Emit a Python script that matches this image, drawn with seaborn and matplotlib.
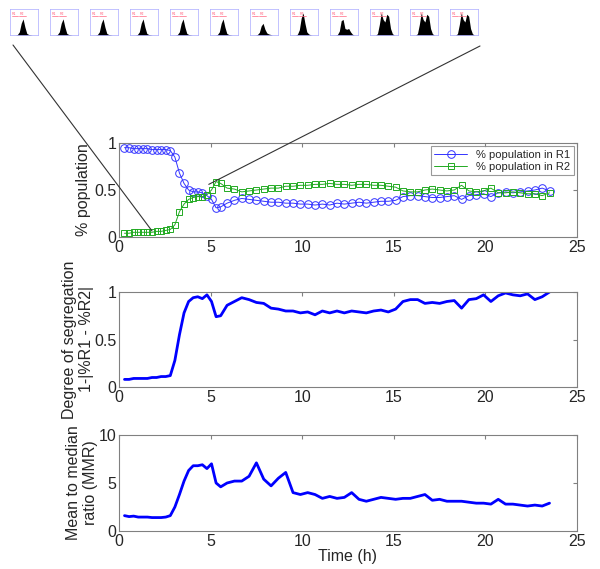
import numpy as np
import pandas as pd
import seaborn as sns
import matplotlib.pyplot as plt
from matplotlib.patches import ConnectionPatch

sns.set_style('white')
plt.rcParams['font.family'] = ['Liberation Sans', 'DejaVu Sans']

# sampling times (h)
time_h = [0.3, 0.55, 0.8, 1.05, 1.3, 1.55, 1.8, 2.05, 2.3, 2.55, 2.8, 3.05, 3.3, 3.55,
          3.8, 4.05, 4.3, 4.55, 4.8, 5.05, 5.3, 5.55,
          5.9, 6.3, 6.7, 7.1, 7.5, 7.9, 8.3, 8.7, 9.1, 9.5, 9.9, 10.3, 10.7, 11.1, 11.5,
          11.9, 12.3, 12.7, 13.1, 13.5, 13.9, 14.3, 14.7, 15.1, 15.5, 15.9, 16.3, 16.7,
          17.1, 17.5, 17.9, 18.3, 18.7, 19.1, 19.5, 19.9, 20.3, 20.7, 21.1, 21.5, 21.9,
          22.3, 22.7, 23.1, 23.5]

pct_r1 = [0.95, 0.95, 0.94, 0.94, 0.94, 0.94, 0.93, 0.93, 0.93, 0.93, 0.92, 0.85, 0.68, 0.57,
          0.50, 0.48, 0.48, 0.47, 0.44, 0.40, 0.31, 0.32,
          0.36, 0.39, 0.41, 0.40, 0.39, 0.38, 0.37, 0.37, 0.36, 0.36, 0.35, 0.35, 0.34, 0.35,
          0.34, 0.36, 0.35, 0.36, 0.37, 0.36, 0.37, 0.38, 0.38, 0.39, 0.43, 0.44, 0.44, 0.43,
          0.42, 0.42, 0.43, 0.44, 0.40, 0.44, 0.45, 0.46, 0.43, 0.47, 0.48, 0.47, 0.48, 0.49,
          0.50, 0.52, 0.49]

pct_r2 = [0.04, 0.04, 0.05, 0.05, 0.05, 0.05, 0.05, 0.06, 0.06, 0.07, 0.08, 0.13, 0.27, 0.35,
          0.40, 0.42, 0.43, 0.43, 0.45, 0.50, 0.59, 0.57,
          0.52, 0.51, 0.48, 0.49, 0.50, 0.51, 0.52, 0.52, 0.54, 0.54, 0.55, 0.55, 0.56, 0.56,
          0.57, 0.56, 0.56, 0.55, 0.56, 0.56, 0.55, 0.55, 0.54, 0.53, 0.49, 0.48, 0.48, 0.50,
          0.51, 0.50, 0.49, 0.50, 0.55, 0.49, 0.48, 0.49, 0.52, 0.47, 0.47, 0.48, 0.47, 0.46,
          0.46, 0.44, 0.47]

segregation = [0.08, 0.08, 0.09, 0.09, 0.09, 0.09, 0.10, 0.10, 0.11, 0.11, 0.12, 0.28, 0.55, 0.78,
               0.90, 0.94, 0.95, 0.93, 0.97, 0.90, 0.74, 0.75,
               0.86, 0.90, 0.94, 0.92, 0.89, 0.88, 0.83, 0.82, 0.80, 0.80, 0.78, 0.79, 0.76, 0.80,
               0.78, 0.80, 0.78, 0.80, 0.79, 0.78, 0.80, 0.81, 0.79, 0.82, 0.90, 0.92, 0.92, 0.88,
               0.89, 0.88, 0.90, 0.91, 0.83, 0.92, 0.93, 0.97, 0.90, 0.96, 0.99, 0.97, 0.96, 0.98,
               0.92, 0.95, 1.00]

mmr = [1.6, 1.5, 1.55, 1.45, 1.45, 1.45, 1.4, 1.4, 1.4, 1.45, 1.6, 2.5, 3.8, 5.2,
       6.3, 6.8, 6.8, 6.9, 6.5, 7.0, 5.0, 4.6,
       5.0, 5.2, 5.2, 5.7, 7.1, 5.4, 4.7, 5.5, 6.1, 4.0, 3.8, 4.0, 3.8, 3.4,
       3.6, 3.4, 3.5, 4.0, 3.3, 3.1, 3.3, 3.5, 3.4, 3.3, 3.4, 3.4, 3.6, 3.8,
       3.2, 3.3, 3.1, 3.1, 3.1, 3.0, 2.9, 2.9, 2.8, 3.3, 2.8, 2.8, 2.7, 2.6,
       2.7, 2.6, 2.9]

# flow cytometry histograms shown as thumbnails (fluorescence bins)
hist_bins = list(range(16))
hist_single = [0, 0, 0, 0, 0.02, 0.12, 0.45, 0.62, 0.30, 0.06, 0.02, 0.01, 0, 0, 0, 0]
hist_low = [0, 0, 0, 0, 0.02, 0.10, 0.35, 0.45, 0.22, 0.08, 0.04, 0.02, 0, 0, 0, 0]
hist_tall = [0, 0, 0, 0, 0.03, 0.20, 0.65, 0.85, 0.45, 0.12, 0.04, 0.01, 0, 0, 0, 0]
hist_shoulder = [0, 0, 0, 0, 0.02, 0.15, 0.55, 0.60, 0.25, 0.22, 0.25, 0.12, 0.03, 0, 0, 0]
hist_bimodal = [0, 0, 0, 0, 0.05, 0.40, 0.85, 0.60, 0.50, 0.80, 0.72, 0.25, 0.05, 0, 0, 0]
thumbs = [hist_single, hist_single, hist_single, hist_single, hist_single, hist_single,
          hist_low, hist_tall, hist_shoulder, hist_bimodal, hist_bimodal, hist_bimodal]

df = pd.DataFrame({'t': time_h, 'r1': pct_r1, 'r2': pct_r2, 'seg': segregation, 'mmr': mmr})

fig = plt.figure(figsize=(6, 5.69), dpi=100)
W, H = 600.0, 569.0

edge = '#808080'


def style_axes(ax):
    for s in ax.spines.values():
        s.set_color(edge)
        s.set_linewidth(0.8)
    ax.tick_params(direction='in', top=True, right=True, length=3, color=edge,
                   labelsize=11.5, pad=2)
    ax.set_xlim(0, 25)
    ax.set_xticks([0, 5, 10, 15, 20, 25])
    ax.set_xlabel('')


ax1 = fig.add_axes([119 / W, 1 - 237 / H, 458 / W, 94 / H])
ax2 = fig.add_axes([119 / W, 1 - 387 / H, 458 / W, 95 / H])
ax3 = fig.add_axes([119 / W, 1 - 531 / H, 458 / W, 96 / H])

sns.lineplot(data=df, x='t', y='r1', ax=ax1, color='#3333ff', lw=0.7, marker='o', ms=5.5,
             markerfacecolor='none', markeredgecolor='#3333ff', markeredgewidth=0.7,
             label='% population in R1')
sns.lineplot(data=df, x='t', y='r2', ax=ax1, color='#22aa22', lw=0.7, marker='s', ms=5,
             markerfacecolor='none', markeredgecolor='#22aa22', markeredgewidth=0.7,
             label='% population in R2')
ax1.set_ylim(0, 1)
ax1.set_yticks([0, 0.5, 1])
ax1.set_yticklabels(['0', '0.5', '1'])
ax1.set_ylabel('% population', fontsize=11.5, labelpad=2)
leg = ax1.legend(loc='upper right', fontsize=8, frameon=True, fancybox=False,
                 borderaxespad=0.3, handlelength=3.0, labelspacing=0.2, borderpad=0.3)
leg.get_frame().set_edgecolor(edge)
leg.get_frame().set_linewidth(0.8)

sns.lineplot(data=df, x='t', y='seg', ax=ax2, color='#0000ff', lw=2)
ax2.set_ylim(0, 1)
ax2.set_yticks([0, 0.5, 1])
ax2.set_yticklabels(['0', '0.5', '1'])
ax2.set_ylabel('Degree of segregation\n1-|%R1 - %R2|', fontsize=11.5, labelpad=0)

sns.lineplot(data=df, x='t', y='mmr', ax=ax3, color='#0000ff', lw=2)
ax3.set_ylim(0, 10)
ax3.set_yticks([0, 5, 10])
ax3.set_ylabel('Mean to median\nratio (MMR)', fontsize=11.5, labelpad=0)

for ax in (ax1, ax2, ax3):
    style_axes(ax)
ax3.set_xlabel('Time (h)', fontsize=11.5, labelpad=0)

# thumbnails of the histograms
for i, h in enumerate(thumbs):
    tx = fig.add_axes([(10 + 40 * i) / W, 1 - 35 / H, 28 / W, 26 / H])
    tx.fill_between(hist_bins, h, color='black', lw=0)
    tx.set_xlim(0, 15)
    tx.set_ylim(0, 1)
    for s in tx.spines.values():
        s.set_color('#aaaaff')
        s.set_linewidth(0.5)
    tx.set_xticks([1, 3, 5, 7, 9, 11, 13])
    tx.set_yticks([0.25, 0.5, 0.75])
    tx.tick_params(direction='in', length=1, width=0.4, color='#9999ff',
                   labelbottom=False, labelleft=False)
    tx.plot([1, 4.5], [0.72, 0.72], color='#ff6680', lw=0.5)
    tx.plot([4.8, 8.5], [0.72, 0.72], color='#ff6680', lw=0.5)
    tx.text(1, 0.76, 'R1', fontsize=2.5, color='#ff6680')
    tx.text(5, 0.76, 'R2', fontsize=2.5, color='#ff6680')

con1 = ConnectionPatch(xyA=(13 / W, 1 - 45 / H), coordsA='figure fraction',
                       xyB=(1.8, 0.065), coordsB='data', axesB=ax1,
                       color='#333333', lw=0.8)
con2 = ConnectionPatch(xyA=(480 / W, 1 - 46 / H), coordsA='figure fraction',
                       xyB=(4.9, 0.56), coordsB='data', axesB=ax1,
                       color='#333333', lw=0.8)
fig.add_artist(con1)
fig.add_artist(con2)

fig.savefig('out.png', dpi=100)
